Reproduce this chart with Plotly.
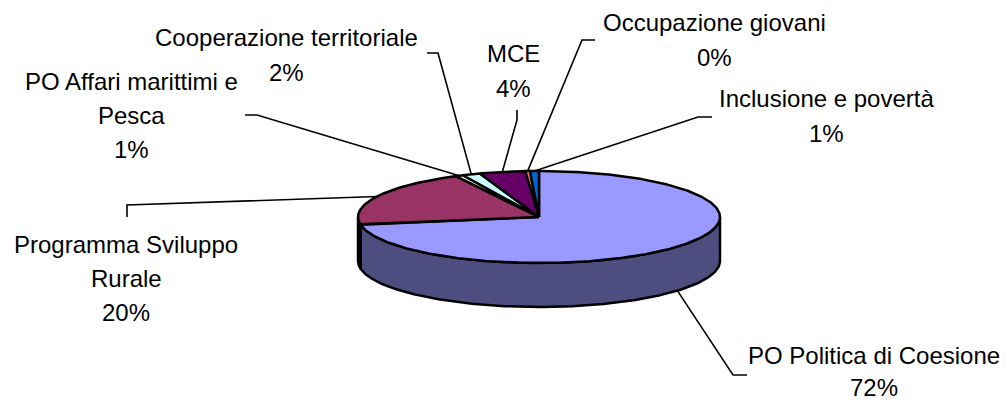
import numpy as np
import plotly.graph_objects as go

# ---------------- data ----------------
categories = ["PO Politica di Coesione", "Programma Sviluppo Rurale",
              "PO Affari marittimi e Pesca", "Cooperazione territoriale",
              "MCE", "Occupazione giovani", "Inclusione e povertà"]
values = [72.3, 20.1, 0.7, 1.6, 4.1, 0.4, 0.8]
label_lines = [["PO Politica di Coesione"], ["Programma Sviluppo", "Rurale"],
               ["PO Affari marittimi e", "Pesca"], ["Cooperazione territoriale"],
               ["MCE"], ["Occupazione giovani"], ["Inclusione e povertà"]]
top_colors = ["#9999FF", "#993366", "#FFFFCC", "#CCFFFF", "#660066", "#FF8080", "#0066CC"]
side_colors = ["#4D4D80", "#4D1A33", "#808066", "#668080", "#330033", "#804040", "#003366"]

# ---------------- layout constants (axis units = pixels) ----------------
W, H = 1006, 402
CX, CY = 539, 217      # centre of top face
RX, RY = 181, 46       # radii of top ellipse
DEPTH = 44             # thickness of the pie
FONT = dict(family="Liberation Sans, Arial, sans-serif", size=24, color="black")
LINE_PITCH = [32, 34, 34, 35, 35, 35, 35]

label_pos = [(874, 355), (126, 244), (131, 81), (286, 37), (513, 53), (714, 22), (826, 98)]
leader_start = [[(747, 375), (733, 375)], [(127, 217), (127, 205)], [(245, 115), (257, 115)],
                [(427, 53), (438, 53)], [(517, 110), (517, 120)], [(595, 40), (582, 40)],
                [(712, 117), (698, 117)]]

total = sum(values)
fracs = [v / total for v in values]
cum = np.concatenate([[0], np.cumsum(fracs)])


def pt(theta_deg, dy=0.0):
    t = np.radians(theta_deg)
    return CX + RX * np.sin(t), CY - RY * np.cos(t) + dy


def arc(a0, a1, dy=0.0, n=None):
    if n is None:
        n = max(2, int(abs(a1 - a0) * 1.5) + 2)
    ang = np.linspace(a0, a1, n)
    xs, ys = pt(ang, dy)
    return list(xs), list(ys)


fig = go.Figure()

# side (visible front half: 90..270 degrees)
for i in range(len(values)):
    a0, a1 = cum[i] * 360, cum[i + 1] * 360
    s0, s1 = max(a0, 90), min(a1, 270)
    if s1 <= s0:
        continue
    tx, ty = arc(s0, s1)
    bx, by = arc(s1, s0, DEPTH)
    fig.add_trace(go.Scatter(x=tx + bx + [tx[0]], y=ty + by + [ty[0]], mode="lines",
                             fill="toself", fillcolor=side_colors[i],
                             line=dict(color="black", width=2.5), hoverinfo="skip",
                             showlegend=False))

# top face slices
for i in range(len(values)):
    a0, a1 = cum[i] * 360, cum[i + 1] * 360
    ax_, ay_ = arc(a0, a1)
    xs = [CX] + ax_ + [CX]
    ys = [CY] + ay_ + [CY]
    fig.add_trace(go.Scatter(x=xs, y=ys, mode="lines", fill="toself",
                             fillcolor=top_colors[i],
                             line=dict(color="black", width=2.5, ),
                             hoverinfo="skip", showlegend=False))

# leader lines and labels
for i in range(len(values)):
    mid = (cum[i] + cum[i + 1]) / 2 * 360
    if 90 < mid < 270:
        ex, ey = pt(mid, DEPTH)
    else:
        ex, ey = pt(mid)
    pts = leader_start[i] + [(ex, ey)]
    fig.add_trace(go.Scatter(x=[p[0] for p in pts], y=[p[1] for p in pts], mode="lines",
                             line=dict(color="black", width=1.6), hoverinfo="skip",
                             showlegend=False))
    lines = label_lines[i] + [f"{round(fracs[i] * 100)}%"]
    lx, ly = label_pos[i]
    for k, txt in enumerate(lines):
        fig.add_annotation(x=lx, y=ly + k * LINE_PITCH[i], text=txt, showarrow=False,
                           xanchor="center", yanchor="middle", font=FONT, borderpad=0)

fig.update_layout(width=W, height=H, autosize=False,
                  margin=dict(l=0, r=0, t=0, b=0),
                  paper_bgcolor="white", plot_bgcolor="white",
                  xaxis=dict(range=[0, W], visible=False, fixedrange=True),
                  yaxis=dict(range=[H, 0], visible=False, fixedrange=True))

fig.write_html("out.html", config={"displayModeBar": False},
               post_script="document.body.style.margin='0';document.body.style.overflow='hidden';")
